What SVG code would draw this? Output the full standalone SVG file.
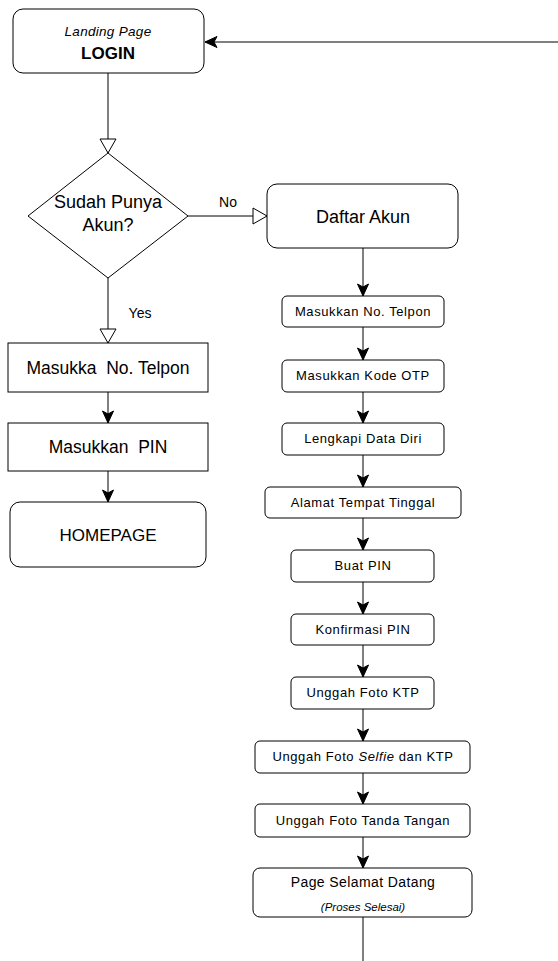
<svg xmlns="http://www.w3.org/2000/svg" width="558" height="961" viewBox="0 0 558 961">
<defs>
<style>
.box{fill:#fff;stroke:#000;stroke-width:1}
.ln{fill:none;stroke:#000;stroke-width:1}
text{font-family:"Liberation Sans",Arial,sans-serif;fill:#000;text-anchor:middle}
.big{font-size:17px}
.sm{font-size:13px;letter-spacing:0.6px}
.lbl{font-size:14px}
</style>
<marker id="arr" markerUnits="userSpaceOnUse" markerWidth="14" markerHeight="14" viewBox="0 0 14 14" refX="13" refY="7" orient="auto">
<path d="M1,1.5 L13,7 L1,12.5 L4,7 Z" fill="#000" stroke="#000" stroke-width="1"/>
</marker>
<marker id="tri" markerUnits="userSpaceOnUse" markerWidth="18" markerHeight="18" viewBox="0 0 18 18" refX="16" refY="9" orient="auto">
<path d="M2,1 L16,9 L2,17 Z" fill="#fff" stroke="#000" stroke-width="1"/>
</marker>
</defs>
<rect width="558" height="961" fill="#fff"/>

<g id="connectors">
<path class="ln" d="M558,42 L205,42" marker-end="url(#arr)"/>
<path class="ln" d="M108,73 L108,153" marker-end="url(#tri)"/>
<path class="ln" d="M188,216 L267,216" marker-end="url(#tri)"/>
<path class="ln" d="M108,278 L108,343" marker-end="url(#tri)"/>
<path class="ln" d="M108,392 L108,423" marker-end="url(#arr)"/>
<path class="ln" d="M108,471 L108,502" marker-end="url(#arr)"/>
<path class="ln" d="M363,248 L363,296" marker-end="url(#arr)"/>
<path class="ln" d="M363,327 L363,360" marker-end="url(#arr)"/>
<path class="ln" d="M363,392 L363,423" marker-end="url(#arr)"/>
<path class="ln" d="M363,455 L363,487" marker-end="url(#arr)"/>
<path class="ln" d="M363,518 L363,550" marker-end="url(#arr)"/>
<path class="ln" d="M363,582 L363,614" marker-end="url(#arr)"/>
<path class="ln" d="M363,645 L363,677" marker-end="url(#arr)"/>
<path class="ln" d="M363,709 L363,741" marker-end="url(#arr)"/>
<path class="ln" d="M363,773 L363,804" marker-end="url(#arr)"/>
<path class="ln" d="M363,837 L363,868" marker-end="url(#arr)"/>
<path class="ln" d="M363,917 L363,961"/>
<text class="lbl" x="228" y="207">No</text>
<text class="lbl" x="140" y="318">Yes</text>
</g>

<g id="login">
<rect class="box" x="13" y="9" width="191" height="64" rx="10"/>
<text x="108" y="36" style="font-size:13.5px;font-style:italic;letter-spacing:0.3px">Landing Page</text>
<text x="108" y="59" style="font-size:17px;font-weight:bold">LOGIN</text>
</g>

<g id="decision">
<path class="box" d="M108,153 L188,216 L108,278 L28,216 Z"/>
<text class="big" x="108" y="208" style="font-size:18px">Sudah Punya</text>
<text class="big" x="108" y="231" style="font-size:18px">Akun?</text>
</g>

<g id="daftar">
<rect class="box" x="267" y="184" width="191" height="64" rx="10"/>
<text class="big" x="363" y="223" style="font-size:18px">Daftar Akun</text>
</g>

<g id="masukka-telpon">
<rect class="box" x="8" y="343" width="200" height="49"/>
<text class="big" x="108" y="374" style="font-size:17.5px;white-space:pre" xml:space="preserve">Masukka  No. Telpon</text>
</g>

<g id="masukkan-pin">
<rect class="box" x="8" y="423" width="200" height="48"/>
<text class="big" x="108" y="453" style="font-size:17.5px;white-space:pre" xml:space="preserve">Masukkan  PIN</text>
</g>

<g id="homepage">
<rect class="box" x="10" y="502" width="196" height="65" rx="10"/>
<text class="big" x="108" y="541">HOMEPAGE</text>
</g>

<g id="r-telpon">
<rect class="box" x="282" y="296" width="162" height="31" rx="5"/>
<text class="sm" x="363" y="316">Masukkan No. Telpon</text>
</g>
<g id="r-otp">
<rect class="box" x="282" y="360" width="162" height="32" rx="5"/>
<text class="sm" x="363" y="380">Masukkan Kode OTP</text>
</g>
<g id="r-data">
<rect class="box" x="282" y="423" width="162" height="32" rx="5"/>
<text class="sm" x="363" y="443">Lengkapi Data Diri</text>
</g>
<g id="r-alamat">
<rect class="box" x="265" y="487" width="196" height="31" rx="5"/>
<text class="sm" x="363" y="507">Alamat Tempat Tinggal</text>
</g>
<g id="r-buatpin">
<rect class="box" x="291" y="550" width="143" height="32" rx="5"/>
<text class="sm" x="363" y="570">Buat PIN</text>
</g>
<g id="r-konfirmasi">
<rect class="box" x="291" y="614" width="143" height="31" rx="5"/>
<text class="sm" x="363" y="634">Konfirmasi PIN</text>
</g>
<g id="r-ktp">
<rect class="box" x="291" y="677" width="143" height="32" rx="5"/>
<text class="sm" x="363" y="697">Unggah Foto KTP</text>
</g>
<g id="r-selfie">
<rect class="box" x="255" y="741" width="215" height="32" rx="5"/>
<text class="sm" x="363" y="761">Unggah Foto <tspan font-style="italic">Selfie</tspan> dan KTP</text>
</g>
<g id="r-ttd">
<rect class="box" x="255" y="804" width="215" height="33" rx="5"/>
<text class="sm" x="363" y="825">Unggah Foto Tanda Tangan</text>
</g>
<g id="r-selamat">
<rect class="box" x="253" y="868" width="219" height="49" rx="7"/>
<text x="363" y="887" style="font-size:14px;letter-spacing:0.4px">Page Selamat Datang</text>
<text x="363" y="911" style="font-size:11.5px;font-style:italic">(Proses Selesai)</text>
</g>
</svg>
